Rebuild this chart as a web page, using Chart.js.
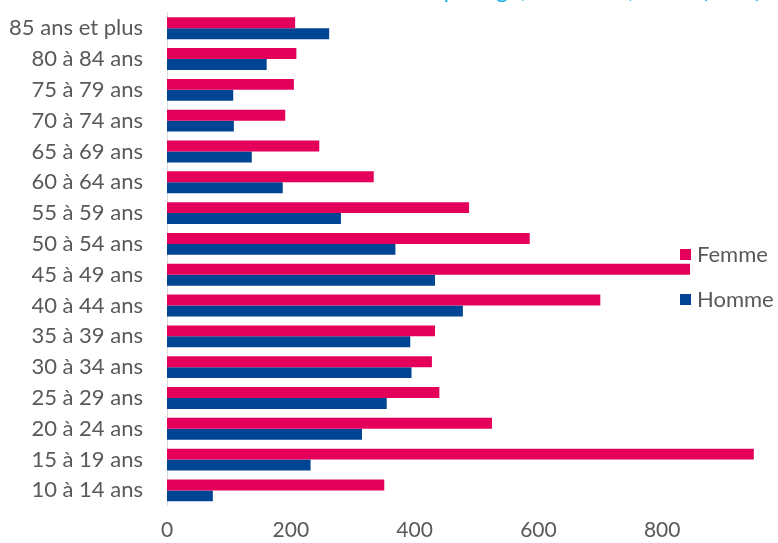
<!DOCTYPE html>
<html lang="fr">
<head>
<meta charset="utf-8">
<title>Femme / Homme par âge</title>
<script src="https://cdn.jsdelivr.net/npm/chart.js@4/dist/chart.umd.min.js"></script>
<style>
  html, body { margin: 0; padding: 0; background: #fff; overflow: hidden; }
  body { width: 778px; height: 543px; position: relative; }
  #wrap { position: absolute; left: 0; top: -25px; width: 800px; height: 584px; }
</style>
</head>
<body>
<div id="wrap"><canvas id="ageChart"></canvas></div>
<script>
  const ageGroups = [
    '10 à 14 ans', '15 à 19 ans', '20 à 24 ans', '25 à 29 ans',
    '30 à 34 ans', '35 à 39 ans', '40 à 44 ans', '45 à 49 ans',
    '50 à 54 ans', '55 à 59 ans', '60 à 64 ans', '65 à 69 ans',
    '70 à 74 ans', '75 à 79 ans', '80 à 84 ans', '85 ans et plus'
  ];
  const femme = [351, 948, 525, 440, 428, 433, 700, 845, 586, 488, 334, 246, 191, 205, 209, 207];
  const homme = [74, 232, 315, 355, 395, 393, 478, 433, 369, 281, 187, 137, 108, 107, 161, 262];
  const xTicks = [0, 200, 400, 600, 800];
  // title is cut off at the top of the original picture
  const titleText = "Nombre de femmes et d'hommes suivis par âge, Montréal, 2016 (nbre)";

  const textColor = '#595959';
  const fontFamily = 'Lato, "Open Sans", sans-serif';

  // legend drawn inside the plot, like the original
  const sideLegend = {
    id: 'sideLegend',
    afterDraw(chart) {
      const { ctx } = chart;
      ctx.save();
      ctx.font = `22px ${fontFamily}`;
      ctx.textBaseline = 'middle';
      chart.data.datasets.forEach((ds, i) => {
        const y = 279 + i * 45;
        ctx.fillStyle = ds.backgroundColor;
        ctx.fillRect(680, y - 5, 11, 11);
        ctx.fillStyle = textColor;
        ctx.fillText(ds.label, 697, y + 1);
      });
      ctx.restore();
    }
  };

  new Chart(document.getElementById('ageChart'), {
    type: 'bar',
    data: {
      labels: ageGroups,
      datasets: [
        { label: 'Femme', data: femme, backgroundColor: '#e4005a' },
        { label: 'Homme', data: homme, backgroundColor: '#004494' }
      ]
    },
    options: {
      indexAxis: 'y',
      responsive: true,
      maintainAspectRatio: false,
      animation: false,
      layout: { padding: { top: 1, right: 14, bottom: 4, left: 0 } },
      datasets: {
        bar: { categoryPercentage: 0.71, barPercentage: 1.0, borderWidth: 0 }
      },
      plugins: {
        legend: { display: false },
        tooltip: { enabled: false },
        title: {
          display: true,
          text: titleText,
          color: '#1fb4e8',
          font: { family: fontFamily, size: 24, weight: 'normal' },
          padding: { top: 0, bottom: 8 }
        }
      },
      scales: {
        x: {
          min: 0,
          max: 1000,
          afterBuildTicks: (scale) => { scale.ticks = xTicks.map((v) => ({ value: v })); },
          grid: { display: false, drawTicks: false },
          border: { display: false },
          ticks: {
            color: textColor,
            padding: 12,
            font: { family: fontFamily, size: 21 }
          }
        },
        y: {
          reverse: true,
          afterFit: (scale) => { scale.width = 167; },
          grid: { display: false },
          border: { display: true, color: '#d9d9d9', width: 1 },
          ticks: {
            color: textColor,
            padding: 16,
            font: { family: fontFamily, size: 22 }
          }
        }
      }
    },
    plugins: [sideLegend]
  });
</script>
</body>
</html>
